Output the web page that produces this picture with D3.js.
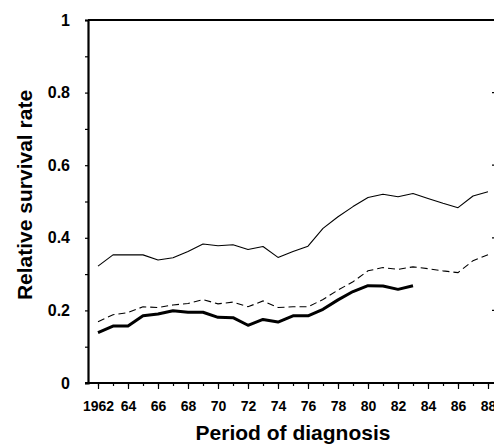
<!DOCTYPE html>
<html>
<head>
<meta charset="utf-8">
<script src="https://cdn.jsdelivr.net/npm/d3@7/dist/d3.min.js"></script>
<style>
  html, body { margin: 0; padding: 0; background: #fff; }
  svg { display: block; }
  text { font-family: "Liberation Sans", Arial, sans-serif; font-weight: bold; fill: #000; }
</style>
</head>
<body>
<svg id="chart" width="494" height="446"></svg>
<script>
// Period of diagnosis (calendar year)
const years = d3.range(1962, 1989);

// Relative survival rate, upper curve (thin solid)
const upperRates = [0.322, 0.353, 0.353, 0.353, 0.339, 0.345, 0.362, 0.383, 0.378,
  0.381, 0.368, 0.376, 0.346, 0.362, 0.377, 0.426, 0.458, 0.486, 0.511,
  0.520, 0.513, 0.522, 0.508, 0.495, 0.483, 0.515, 0.527];

// Relative survival rate, middle curve (dashed)
const middleRates = [0.169, 0.188, 0.194, 0.210, 0.208, 0.215, 0.219, 0.230, 0.218,
  0.223, 0.210, 0.226, 0.208, 0.210, 0.210, 0.230, 0.256, 0.279, 0.309,
  0.318, 0.313, 0.320, 0.315, 0.309, 0.304, 0.337, 0.353];

// Relative survival rate, lower curve (thick solid), 1962-1983
const lowerYears = d3.range(1962, 1984);
const lowerRates = [0.139, 0.157, 0.157, 0.185, 0.190, 0.199, 0.195, 0.195, 0.181,
  0.180, 0.159, 0.175, 0.168, 0.185, 0.185, 0.203, 0.229, 0.252, 0.268,
  0.267, 0.258, 0.268];

const xTickYears = d3.range(1962, 1989, 2);
const xTickLabels = ["1962", "64", "66", "68", "70", "72", "74", "76", "78", "80", "82", "84", "86", "88"];
const yTickValues = [0, 0.2, 0.4, 0.6, 0.8, 1];
const yTickLabels = ["0", "0.2", "0.4", "0.6", "0.8", "1"];

const svg = d3.select("#chart");

const x = d3.scaleLinear().domain([1962, 1988]).range([98, 488]);
const y = d3.scaleLinear().domain([0, 1]).range([383, 20]);

const left = 88, right = 496;

// frame: top and right edges
svg.append("line").attr("x1", left).attr("x2", right + 2)
  .attr("y1", y(1)).attr("y2", y(1)).attr("stroke", "#000").attr("stroke-width", 2.2);
svg.append("line").attr("x1", right).attr("x2", right)
  .attr("y1", y(1)).attr("y2", y(0)).attr("stroke", "#000").attr("stroke-width", 1.5);

// right edge inner ticks
svg.append("g").selectAll("line").data([0.2, 0.4, 0.6, 0.8]).join("line")
  .attr("x1", right).attr("x2", right - 4)
  .attr("y1", d => y(d)).attr("y2", d => y(d))
  .attr("stroke", "#000").attr("stroke-width", 1.2);

// left axis with minor ticks every 0.1
const yMinor = d3.axisLeft(y).tickValues(d3.range(0, 1.01, 0.1)).tickSize(3).tickFormat("");
svg.append("g").attr("transform", `translate(${left},0)`).call(yMinor)
  .call(g => g.select(".domain").attr("stroke-width", 2.2))
  .call(g => g.selectAll(".tick line").attr("stroke-width", 1.2));

const yAxis = d3.axisLeft(y).tickValues(yTickValues).tickSize(0).tickPadding(18)
  .tickFormat((d, i) => yTickLabels[i]);
svg.append("g").attr("transform", `translate(${left},0)`).call(yAxis)
  .call(g => g.select(".domain").remove())
  .call(g => g.selectAll("text").attr("font-size", 16).attr("font-family", null)
    .style("font-family", "'Liberation Sans', Arial, sans-serif").style("font-weight", "bold"));

// bottom axis: minor ticks each year, major every second year
const xMinor = d3.axisBottom(x).tickValues(years).tickSize(3).tickFormat("");
svg.append("g").attr("transform", `translate(0,${y(0)})`).call(xMinor)
  .call(g => g.select(".domain").attr("d", `M${left - 3},0H${right}`).attr("stroke-width", 2.2))
  .call(g => g.selectAll(".tick line").attr("stroke-width", 1.2));

const xAxis = d3.axisBottom(x).tickValues(xTickYears).tickSize(6).tickPadding(12)
  .tickFormat((d, i) => xTickLabels[i]);
svg.append("g").attr("transform", `translate(0,${y(0)})`).call(xAxis)
  .call(g => g.select(".domain").remove())
  .call(g => g.selectAll(".tick line").attr("stroke-width", 1.2))
  .call(g => g.selectAll("text").attr("font-size", 14).attr("font-family", null)
    .style("font-family", "'Liberation Sans', Arial, sans-serif").style("font-weight", "bold"));

// survival curves
const line = d3.line().x(d => x(d[0])).y(d => y(d[1]));

svg.append("path").datum(years.map((yr, i) => [yr, upperRates[i]]))
  .attr("d", line).attr("fill", "none").attr("stroke", "#000").attr("stroke-width", 1.1)
  .attr("stroke-linejoin", "round");

svg.append("path").datum(years.map((yr, i) => [yr, middleRates[i]]))
  .attr("d", line).attr("fill", "none").attr("stroke", "#000").attr("stroke-width", 1.1)
  .attr("stroke-dasharray", "7,4");

svg.append("path").datum(lowerYears.map((yr, i) => [yr, lowerRates[i]]))
  .attr("d", line).attr("fill", "none").attr("stroke", "#000").attr("stroke-width", 3)
  .attr("stroke-linejoin", "round");

// axis titles
svg.append("text").attr("x", 293).attr("y", 440).attr("text-anchor", "middle")
  .attr("font-size", 21).text("Period of diagnosis");

svg.append("text").attr("transform", "translate(32,195) rotate(-90)")
  .attr("text-anchor", "middle").attr("font-size", 21).text("Relative survival rate");
</script>
</body>
</html>
